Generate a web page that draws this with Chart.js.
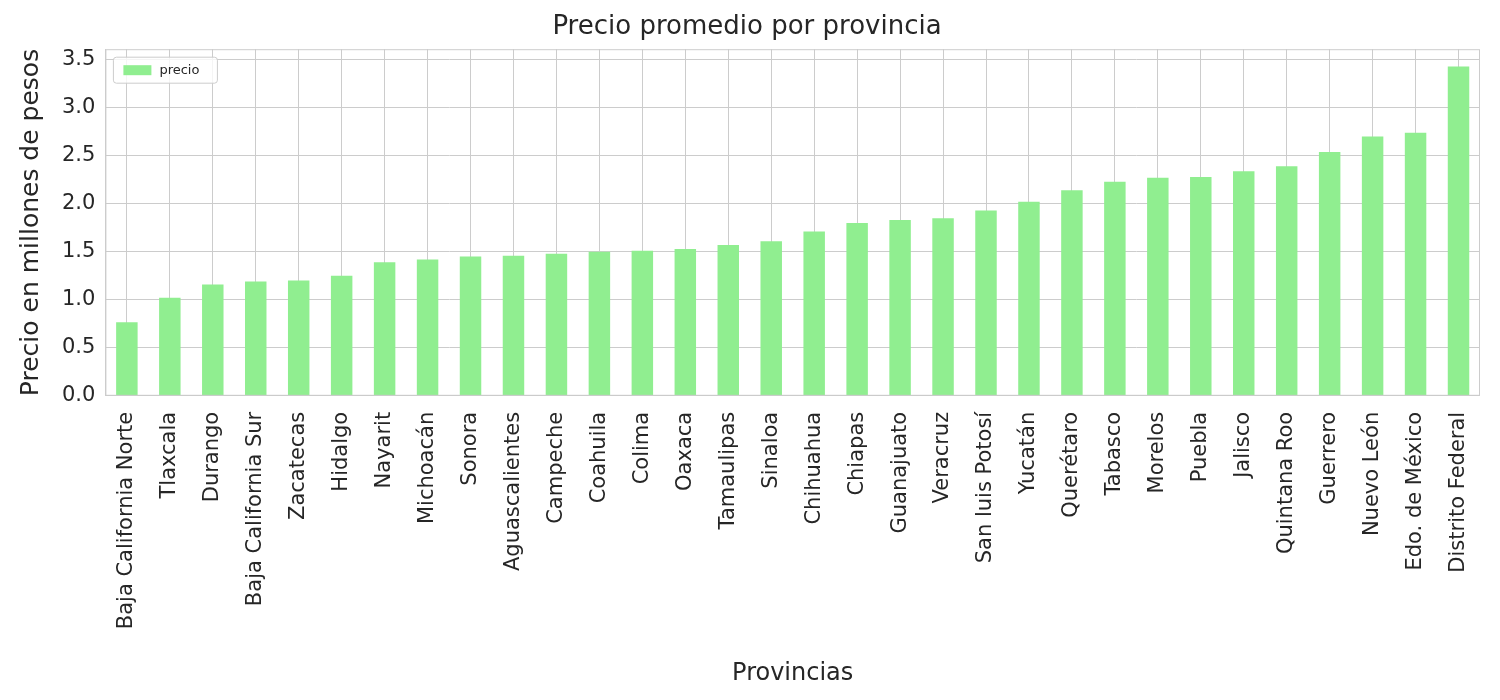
<!DOCTYPE html>
<html lang="es">
<head>
<meta charset="UTF-8" />
<title>Precio promedio por provincia</title>
<style>
  body { margin: 0; background: #fff; }
  #wrap { width: 1500px; height: 700px; }
</style>
<script src="https://cdn.jsdelivr.net/npm/chart.js"></script>
</head>
<body>
<div id="wrap"><canvas id="chart"></canvas></div>
<script>
const provincias = ['Baja California Norte', 'Tlaxcala', 'Durango', 'Baja California Sur', 'Zacatecas',
  'Hidalgo', 'Nayarit', 'Michoacán', 'Sonora', 'Aguascalientes', 'Campeche', 'Coahuila', 'Colima',
  'Oaxaca', 'Tamaulipas', 'Sinaloa', 'Chihuahua', 'Chiapas', 'Guanajuato', 'Veracruz',
  'San luis Potosí', 'Yucatán', 'Querétaro', 'Tabasco', 'Morelos', 'Puebla', 'Jalisco',
  'Quintana Roo', 'Guerrero', 'Nuevo León', 'Edo. de México', 'Distrito Federal'];
const precio = [0.765, 1.02, 1.16, 1.19, 1.20, 1.25, 1.39, 1.42, 1.45, 1.46, 1.48, 1.50, 1.51,
  1.53, 1.57, 1.61, 1.71, 1.80, 1.83, 1.85, 1.93, 2.02, 2.14, 2.23, 2.27, 2.28, 2.34,
  2.39, 2.54, 2.70, 2.74, 3.43];

const font = 'DejaVu Sans';
const txt = '#262626';
const verde = '#90ee90';

// legend inside the plot area + full frame around it
const innerLegend = {
  id: 'innerLegend',
  afterDraw(chart) {
    const { ctx, chartArea } = chart;
    ctx.save();
    ctx.strokeStyle = '#cccccc';
    ctx.lineWidth = 1;
    ctx.strokeRect(chartArea.left + 0.5, chartArea.top + 0.5, chartArea.width - 1, chartArea.height - 1);
    const x = chartArea.left + 8, y = chartArea.top + 8;
    ctx.fillStyle = 'rgba(255,255,255,0.8)';
    ctx.beginPath();
    ctx.roundRect(x, y, 104, 26, 3);
    ctx.fill();
    ctx.stroke();
    ctx.fillStyle = verde;
    ctx.fillRect(x + 10, y + 8, 28, 10);
    ctx.fillStyle = txt;
    ctx.font = '13px "' + font + '"';
    ctx.textBaseline = 'middle';
    ctx.fillText('precio', x + 46, y + 13);
    ctx.restore();
  }
};

new Chart(document.getElementById('chart'), {
  type: 'bar',
  data: {
    labels: provincias,
    datasets: [{ label: 'precio', data: precio, backgroundColor: verde, barPercentage: 0.5, categoryPercentage: 1 }]
  },
  options: {
    responsive: true,
    maintainAspectRatio: false,
    animation: false,
    layout: { padding: { left: 12, right: 18, top: 0, bottom: 8 } },
    plugins: {
      legend: { display: false },
      tooltip: { enabled: false },
      title: { display: true, text: 'Precio promedio por provincia', color: txt,
        font: { family: font, size: 26, weight: 'normal' }, padding: { top: 12, bottom: 6 } }
    },
    scales: {
      x: {
        grid: { color: '#cccccc', offset: false, drawTicks: false },
        border: { color: '#cccccc' },
        ticks: { color: txt, font: { family: font, size: 21 }, minRotation: 90, maxRotation: 90, autoSkip: false, padding: 16 },
        title: { display: true, text: 'Provincias', color: txt, font: { family: font, size: 24 }, padding: { top: 14 } }
      },
      y: {
        min: 0, max: 3.61,
        grid: { color: '#cccccc', drawTicks: false },
        border: { color: '#cccccc' },
        afterBuildTicks(axis) { axis.ticks = [0, 0.5, 1, 1.5, 2, 2.5, 3, 3.5].map(v => ({ value: v })); },
        ticks: { color: txt, font: { family: font, size: 21 }, padding: 10, callback: v => v.toFixed(1) },
        title: { display: true, text: 'Precio en millones de pesos', color: txt, font: { family: font, size: 25 }, padding: { bottom: 6 } }
      }
    }
  },
  plugins: [innerLegend]
});
</script>
</body>
</html>
